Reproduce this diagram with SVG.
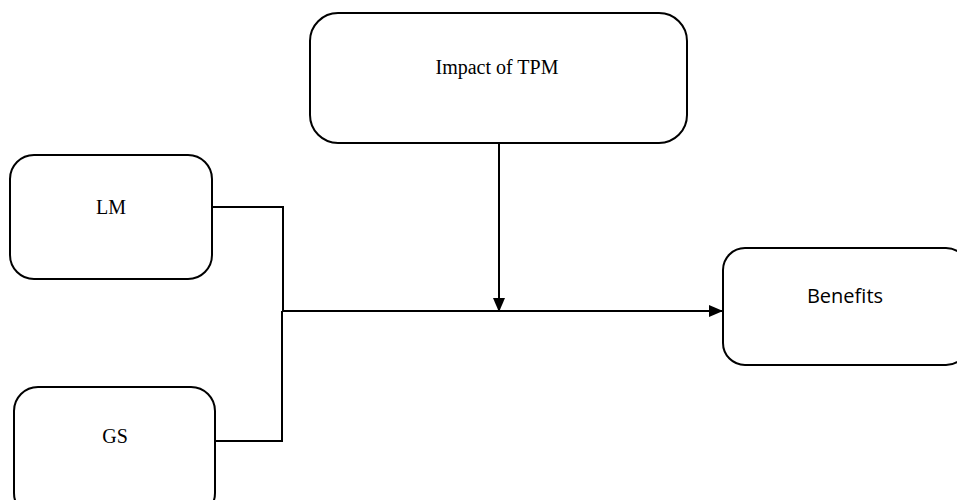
<svg xmlns="http://www.w3.org/2000/svg" width="957" height="500" viewBox="0 0 957 500">
<style>
.box{fill:#fff;stroke:#000;stroke-width:2}
.serif{font-family:"Liberation Serif","Times New Roman",serif;font-size:20px;fill:#000;text-anchor:middle}
.sans{font-family:"Open Sans","Liberation Sans",sans-serif;font-size:20px;fill:#000;text-anchor:middle}
.ln{fill:none;stroke:#000;stroke-width:2}
</style>
<defs>
<marker id="ah" markerWidth="14" markerHeight="12" refX="13" refY="6" orient="auto" markerUnits="userSpaceOnUse">
<path d="M0,0 L14,6 L0,12 Z" fill="#000"/>
</marker>
</defs>
<g id="impact">
<rect class="box" x="310" y="13" width="377" height="130" rx="28"/>
<text class="serif" x="497" y="74">Impact of TPM</text>
</g>
<g id="lm">
<rect class="box" x="10" y="155" width="202" height="124" rx="24"/>
<text class="serif" x="111" y="214">LM</text>
</g>
<g id="gs">
<rect class="box" x="14" y="387" width="201" height="130" rx="24"/>
<text class="serif" x="115" y="443">GS</text>
</g>
<g id="benefits">
<rect class="box" x="723" y="248" width="245" height="117" rx="22"/>
<text class="sans" x="845" y="303">Benefits</text>
</g>
<g id="connectors">
<polyline class="ln" points="212,207 283,207 283,311"/>
<polyline class="ln" points="215,441 282,441 282,311"/>
<line class="ln" x1="282" y1="311" x2="722" y2="311" marker-end="url(#ah)"/>
<line class="ln" x1="499" y1="143" x2="499" y2="311" marker-end="url(#ah)"/>
</g>
</svg>
